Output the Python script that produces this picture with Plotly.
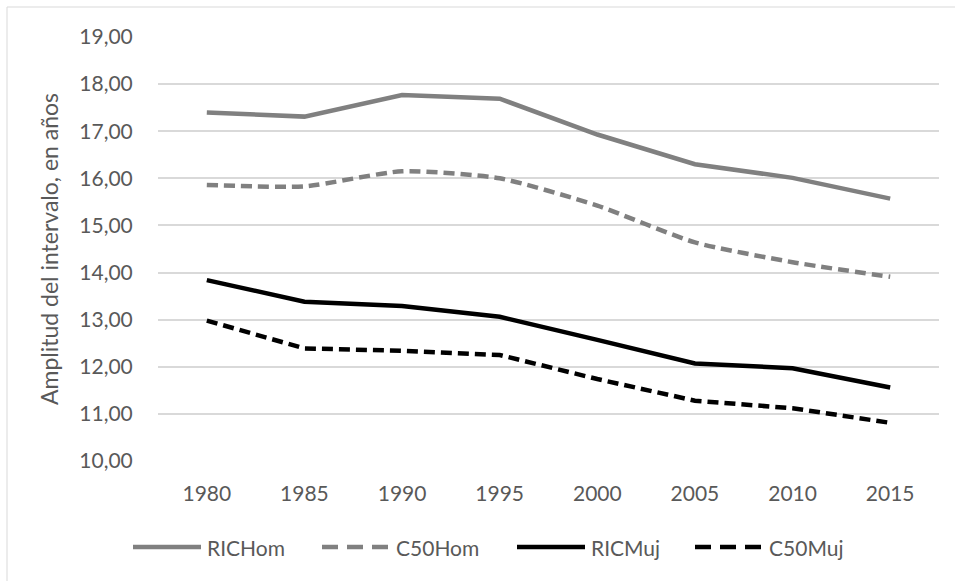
import plotly.graph_objects as go

years = ["1980", "1985", "1990", "1995", "2000", "2005", "2010", "2015"]
ric_hom = [17.40, 17.31, 17.77, 17.69, 16.93, 16.30, 16.01, 15.57]
c50_hom = [15.86, 15.83, 16.15, 16.00, 15.42, 14.64, 14.22, 13.91]
ric_muj = [13.84, 13.38, 13.29, 13.06, 12.57, 12.07, 11.97, 11.56]
c50_muj = [12.98, 12.39, 12.34, 12.25, 11.74, 11.28, 11.12, 10.81]
y_ticks = [10, 11, 12, 13, 14, 15, 16, 17, 18, 19]
series_names = ["RICHom", "C50Hom", "RICMuj", "C50Muj"]

GRAY = "#808080"
BLACK = "#000000"
TXT = "#595959"
FONT = "Lato"
DASH = "11px,6px"
LEG_DASH = "16px,9px"

# plot area geometry (pixels)
L, R, T, B = 158, 16, 37, 120
W, H = 955 - L - R, 581 - T - B

def px_x(x):
    return (x - L) / W

def px_y(y):
    return (581 - B - y) / H

styles = [(GRAY, "solid", "linear"), (GRAY, DASH, "spline"),
          (BLACK, "solid", "linear"), (BLACK, DASH, "linear")]
data = [ric_hom, c50_hom, ric_muj, c50_muj]

fig = go.Figure()
for name, vals, (col, dash, shape) in zip(series_names, data, styles):
    line = dict(color=col, width=4.5, dash=dash, shape=shape)
    if shape == "spline":
        line["smoothing"] = 0.6
    fig.add_trace(go.Scatter(x=years, y=vals, name=name, mode="lines",
                             line=line, showlegend=False))

# manual legend (matches long sample lines of the original)
leg_y = 547
leg_starts = [133, 322, 517, 695]
shapes = [dict(type="rect", xref="paper", yref="paper",
               x0=px_x(7), x1=px_x(962), y0=px_y(590), y1=px_y(7),
               line=dict(color="#d9d9d9", width=1), layer="below")]
annotations = []
for name, x0, (col, dash, _) in zip(series_names, leg_starts, styles):
    shapes.append(dict(type="line", xref="paper", yref="paper",
                       x0=px_x(x0), x1=px_x(x0 + 68), y0=px_y(leg_y), y1=px_y(leg_y),
                       line=dict(color=col, width=4.5,
                                 dash=("solid" if dash == "solid" else LEG_DASH))))
    annotations.append(dict(xref="paper", yref="paper", x=px_x(x0 + 72), y=px_y(leg_y),
                            xanchor="left", yanchor="middle", showarrow=False,
                            text=name, font=dict(family=FONT, size=21, color=TXT)))

fig.update_layout(
    width=955, height=581,
    margin=dict(l=L, r=R, t=T, b=B),
    paper_bgcolor="white", plot_bgcolor="white",
    separators=",.",
    font=dict(family=FONT, size=21, color=TXT),
    showlegend=False,
    shapes=shapes,
    annotations=annotations,
)
fig.update_xaxes(type="category", range=[-0.5, 7.5], showgrid=False, showline=False,
                 zeroline=False, ticks="outside", ticklen=14, tickcolor="rgba(0,0,0,0)",
                 tickfont=dict(family=FONT, size=21, color=TXT))
fig.update_yaxes(range=[10, 19], tickvals=y_ticks, tickformat=".2f",
                 showgrid=True, gridcolor="#d9d9d9", gridwidth=1.5,
                 zeroline=False, showline=False,
                 ticks="outside", ticklen=20, tickcolor="rgba(0,0,0,0)",
                 tickfont=dict(family=FONT, size=21, color=TXT),
                 title=dict(text="Amplitud del intervalo, en años",
                            font=dict(family=FONT, size=23, color=TXT), standoff=14))

fig.write_html("out.html")
